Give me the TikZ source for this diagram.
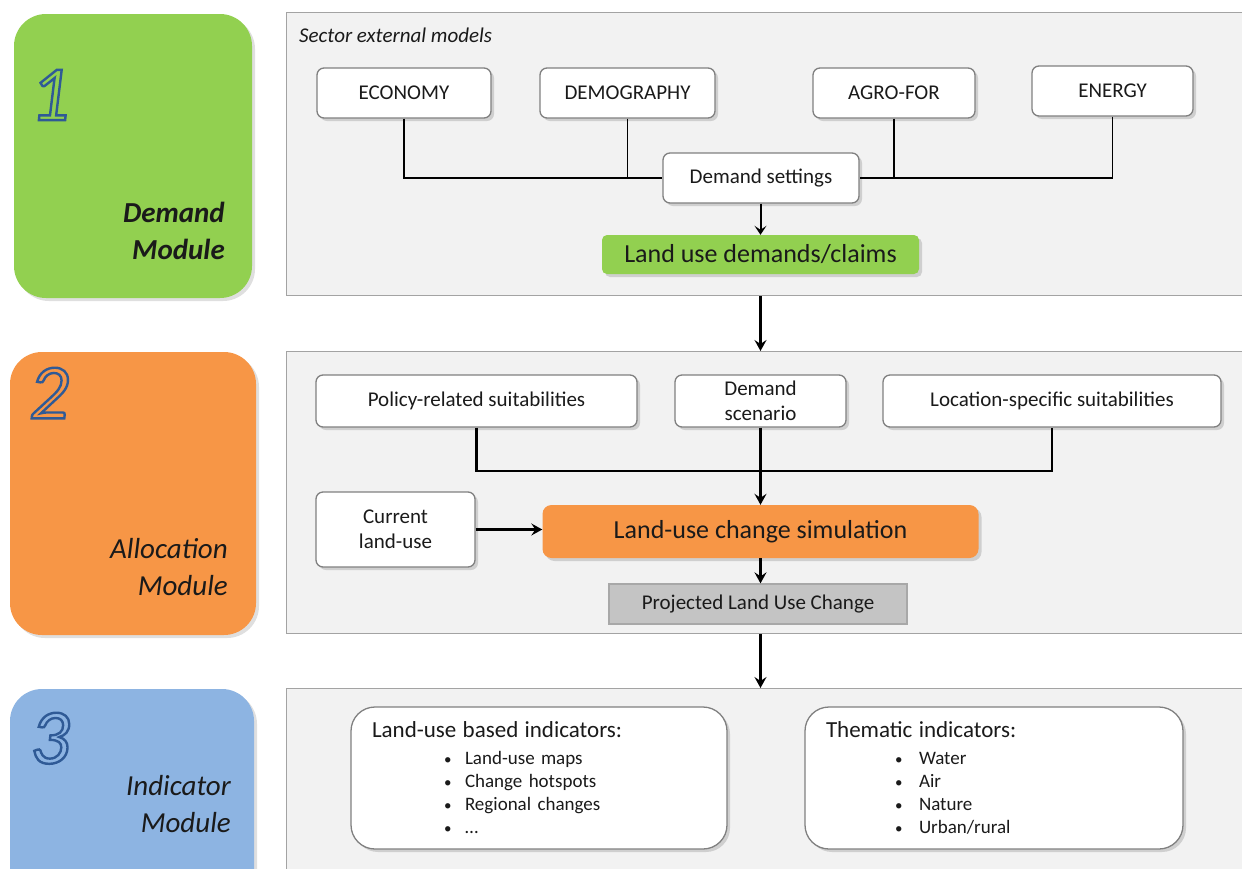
\documentclass[tikz,border=0pt]{standalone}
\usepackage{fontspec}
\setmainfont{Carlito}
\usetikzlibrary{positioning,calc,shadows,arrows.meta}

\definecolor{modgreen}{HTML}{92D050}
\definecolor{modorange}{HTML}{F79646}
\definecolor{modblue}{HTML}{8DB4E2}
\definecolor{digitblue}{HTML}{2F5A96}
\definecolor{panelfill}{HTML}{F2F2F2}
\definecolor{panelline}{HTML}{A3A3A3}
\definecolor{boxline}{HTML}{808080}
\definecolor{projgray}{HTML}{C4C4C4}
\definecolor{projline}{HTML}{A8A8A8}
\definecolor{ink}{HTML}{1A1A1A}

\newcommand{\fsz}[2]{\fontsize{#1}{#2}\selectfont}
% outlined digit: stroke-only text rendering
\newcommand{\moddigit}[1]{\special{pdf:code 1 Tr 2.4 w}\textcolor{digitblue}{#1}\special{pdf:code 0 Tr 0.4 w}}
\newcommand{\bul}{\makebox[0pt][l]{\fsz{15}{15}\textbullet}}

\tikzset{
  panel/.style={draw=panelline, fill=panelfill, line width=1.3pt, minimum width=990pt, inner sep=0pt, anchor=north west},
  module/.style={rounded corners=32pt, inner sep=0pt,
    drop shadow={shadow xshift=3pt, shadow yshift=-3pt, opacity=0.25}},
  digit/.style={inner sep=0pt, text depth=0pt, font=\fsz{78}{78}\itshape},
  modlabel/.style={anchor=east, align=right, inner sep=0pt, text=ink, font=\fsz{29}{37}\itshape},
  model/.style={draw=boxline, fill=white, line width=1.3pt, rounded corners=7pt, inner sep=0pt,
    minimum height=50pt, text=ink, font=\fsz{21}{25}, align=center,
    drop shadow={shadow xshift=3pt, shadow yshift=-3pt, opacity=0.3}},
  result/.style={inner sep=0pt, text=ink, font=\fsz{26}{30},
    drop shadow={shadow xshift=3pt, shadow yshift=-3pt, opacity=0.3}},
  indbox/.style={draw=boxline, fill=white, line width=1.3pt, rounded corners=24pt, inner xsep=21pt,
    minimum height=142pt, text=ink, font=\fsz{19}{23}, align=left,
    drop shadow={shadow xshift=3pt, shadow yshift=-3pt, opacity=0.3}},
  link/.style={line width=1.7pt},
  flow/.style={line width=2.6pt},
  arr/.style={-{Stealth[length=11pt,width=12pt,inset=4pt]}}
}

\begin{document}
\begin{tikzpicture}[x=1pt,y=-1pt]
  \useasboundingbox (0,0) rectangle (1242,868);

  % module tiles on the left
  \node[module, fill=modgreen, minimum width=238pt, minimum height=284pt] (mod1) at (133,156) {};
  \node[module, fill=modorange, minimum width=246pt, minimum height=283pt] (mod2) at (133,493.5) {};
  \node[module, fill=modblue, minimum width=244pt, minimum height=222pt] (mod3) at (132,800) {};
  \node[digit] (num1) at (50,95) {\moddigit{1}};
  \node[digit] (num2) at (49,393) {\moddigit{2}};
  \node[digit] (num3) at (50,738) {\moddigit{3}};
  \node[modlabel, font=\fsz{29}{37}\bfseries\itshape] (lab1) at (225,231) {Demand\\Module};
  \node[modlabel] (lab2) at (228,567) {Allocation\\Module};
  \node[modlabel] (lab3) at (231,804) {Indicator\\Module};

  % panels
  \node[panel, minimum height=283pt] (p1) at (286,12) {};
  \node[panel, minimum height=282pt] (p2) at (286,351) {};
  \node[panel, minimum height=230pt] (p3) at (286,688) {};

  % 1: demand
  \node[anchor=west, inner sep=0pt, text=ink, font=\fsz{21}{25}\itshape] (sector) at (299,35) {Sector external models};
  \node[model, minimum width=174pt] (econ) at (404,93) {ECONOMY};
  \node[model, minimum width=175pt] (demo) at (627.5,93) {DEMOGRAPHY};
  \node[model, minimum width=162pt] (agro) at (894,93) {AGRO-FOR};
  \node[model, minimum width=161pt] (energy) at (1112.5,91) {ENERGY};
  \node[model, minimum width=196pt] (dset) at (761,178) {Demand settings};
  \node[result, fill=modgreen, rounded corners=5pt, minimum width=317pt, minimum height=39pt] (lud) at (760.5,254.5) {Land use demands/claims};

  \draw[link] (econ.south) |- (dset.west);
  \draw[link] (demo.south) |- (dset.west);
  \draw[link] (agro.south) |- (dset.east);
  \draw[link] (energy.south) |- (dset.east);
  \draw[line width=2pt, -{Stealth[length=9pt,width=12pt,inset=4pt]}] (dset.south -| lud.north) -- (lud.north);

  \draw[flow, arr] (p1.south -| lud.south) -- (p2.north -| lud.south);

  % 2: allocation
  \node[model, minimum width=321pt, minimum height=52pt] (pol) at (476.5,401) {Policy-related suitabilities};
  \node[model, minimum width=171pt, minimum height=52pt] (demsc) at (760.5,401) {Demand\\scenario};
  \node[model, minimum width=338pt, minimum height=52pt] (loc) at (1052,401) {Location-specific suitabilities};
  \node[model, minimum width=159pt, minimum height=75pt] (cur) at (395.5,529.5) {Current\\land-use};
  \node[result, fill=modorange, rounded corners=9pt, minimum width=436pt, minimum height=53pt] (sim) at (760.5,531.5) {Land-use change simulation};
  \node[draw=projline, fill=projgray, line width=1.3pt, inner sep=0pt, text=ink, font=\fsz{21}{25},
        minimum width=298pt, minimum height=40pt] (proj) at (758,604) {Projected Land Use Change};
  \coordinate (join) at (760.5,471);

  \draw[flow] (pol.south) |- (join) -| (loc.south);
  \draw[flow, arr] (demsc.south) -- (sim.north);
  \draw[flow, arr] (cur.east) -- (cur.east -| sim.west);
  \draw[flow, arr] (sim.south) -- (sim.south |- proj.north);

  \draw[flow, arr] (p2.south -| lud.south) -- (p3.north -| lud.south);

  % 3: indicators
  \node[indbox, text width=334pt] (luind) at (539,778) {%
    {\fsz{23}{23}Land-use based indicators:}\\[4pt]
    \hspace*{72pt}\makebox[21pt][l]{\bul}Land-use maps\\
    \hspace*{72pt}\makebox[21pt][l]{\bul}Change hotspots\\
    \hspace*{72pt}\makebox[21pt][l]{\bul}Regional changes\\
    \hspace*{72pt}\makebox[21pt][l]{\bul}\ldots};
  \node[indbox, text width=336pt] (thind) at (994,778) {%
    {\fsz{23}{23}Thematic indicators:}\\[4pt]
    \hspace*{69pt}\makebox[24pt][l]{\bul}Water\\
    \hspace*{69pt}\makebox[24pt][l]{\bul}Air\\
    \hspace*{69pt}\makebox[24pt][l]{\bul}Nature\\
    \hspace*{69pt}\makebox[24pt][l]{\bul}Urban/rural};
\end{tikzpicture}
\end{document}
